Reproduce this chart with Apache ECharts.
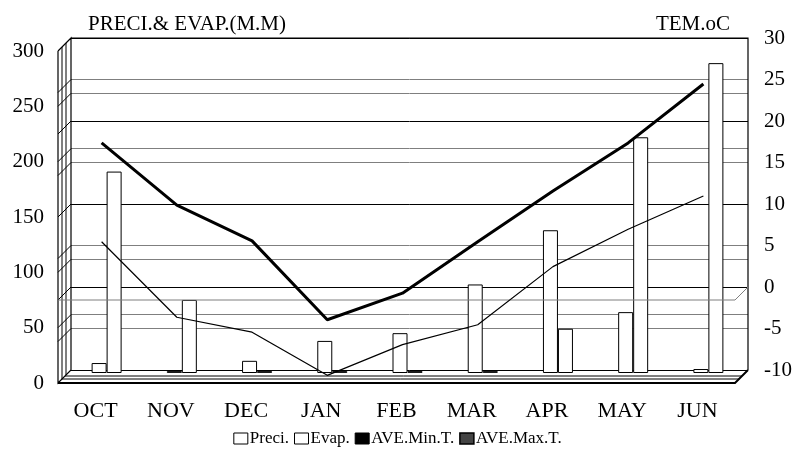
<!DOCTYPE html>
<html>
<head>
<meta charset="utf-8">
<script src="https://cdn.jsdelivr.net/npm/echarts@6/dist/echarts.min.js"></script>
<style>
  html, body { margin: 0; padding: 0; background: #fff; }
  #chart { width: 795px; height: 450px; }
</style>
</head>
<body>
<div id="chart"></div>
<script>
// Monthly climate data, October through June
var months = ['OCT', 'NOV', 'DEC', 'JAN', 'FEB', 'MAR', 'APR', 'MAY', 'JUN'];
var preci = [9, 0, 11, 29, 36, 80, 129, 55, 3.6];        // mm
var evap = [182, 66, 0, 0, 0, 0, 40, 213, 280];          // mm
var minTemp = [6.3, -2.8, -4.6, -9.8, -6.1, -3.7, 3.3, 7.8, 11.8];   // deg C
var maxTemp = [18.2, 10.7, 6.4, -3.1, 0.1, 6.3, 12.4, 18.2, 25.3];   // deg C

var leftTicks = { min: 0, max: 300, interval: 50 };
var rightTicks = { min: -10, max: 30, interval: 5 };

var FONT = '"Liberation Serif", "Times New Roman", serif';

// Pseudo-3D box geometry (back wall and depth offset, in px)
var BL = 71, BR = 748, BT = 38, BB = 370, D = 13;

function barData(arr) {
  return arr.map(function (v) {
    return v === 0 ? { value: v, itemStyle: { color: '#1a1a1a', borderColor: '#1a1a1a' } } : v;
  });
}

var chart = echarts.init(document.getElementById('chart'), null, { renderer: 'canvas' });

function frameGraphics() {
  var g = [];
  var line = function (pts, color, w, z) {
    g.push({ type: 'polyline', shape: { points: pts }, style: { stroke: color, lineWidth: w, fill: null }, z: z || 5, silent: true });
  };
  // back-wall grid positions from both value axes
  var ys = [];
  for (var v = leftTicks.min; v <= leftTicks.max; v += leftTicks.interval) {
    ys.push(chart.convertToPixel({ yAxisIndex: 0 }, v));
  }
  for (var t = rightTicks.min; t <= rightTicks.max; t += rightTicks.interval) {
    ys.push(chart.convertToPixel({ yAxisIndex: 1 }, t));
  }
  // left side wall
  ys.forEach(function (y) { line([[BL, y], [BL - D, y + D]], '#000', 1); });
  line([[BL - D, BT + D], [BL, BT], [BL, BB], [BL - D, BB + D], [BL - D, BT + D]], '#000', 1.2);
  line([[BL - 9, BT + 9], [BL - 9, BB + 9]], '#000', 1);
  line([[BL - 5, BT + 5], [BL - 5, BB + 5]], '#000', 1);
  // back wall top and right edge
  line([[BL, BT], [BR, BT], [BR, BB]], '#000', 1.2);
  // zero temperature plane
  var y0 = chart.convertToPixel({ yAxisIndex: 1 }, 0);
  line([[BL - D, y0 + D], [BR - D, y0 + D], [BR, y0]], '#7f7f7f', 1);
  // floor slab
  line([[BL - D, BB + D], [BR - D, BB + D], [BR, BB]], '#000', 2);
  line([[BL - 9, BB + 9], [BR - 9, BB + 9]], '#000', 1);
  line([[BL - 6, BB + 6], [BR - 6, BB + 6]], '#000', 1);
  return g;
}

var option = {
  animation: false,
  backgroundColor: '#fff',
  textStyle: { fontFamily: FONT, color: '#000' },
  title: [
    { text: 'PRECI.& EVAP.(M.M)', left: 83, top: 9, textStyle: { fontFamily: FONT, fontSize: 21, fontWeight: 'normal', color: '#000' } },
    { text: 'TEM.oC', right: 60, top: 9, textStyle: { fontFamily: FONT, fontSize: 21, fontWeight: 'normal', color: '#000' } }
  ],
  legend: {
    top: 430, left: 'center', padding: 0,
    itemWidth: 14, itemHeight: 11, itemGap: 5,
    textStyle: { fontFamily: FONT, fontSize: 17, color: '#000', padding: [0, 0, 0, -3] },
    data: [
      { name: 'Preci.', icon: 'rect', itemStyle: { color: '#fff', borderColor: '#000', borderWidth: 1 } },
      { name: 'Evap.', icon: 'rect', itemStyle: { color: '#fff', borderColor: '#000', borderWidth: 1 } },
      { name: 'AVE.Min.T.', icon: 'rect', itemStyle: { color: '#000', borderColor: '#000', borderWidth: 1 } },
      { name: 'AVE.Max.T.', icon: 'rect', itemStyle: { color: '#444', borderColor: '#000', borderWidth: 1.5 } }
    ]
  },
  grid: [
    { left: BL, right: 795 - BR, top: BT, bottom: 450 - BB },                 // back wall
    { left: BL - 2, right: 795 - BR + 2, top: BT + 3, bottom: 450 - BB - 3 },  // bar plane
    { left: BL - 7, right: 795 - BR + 7, top: BT + 7, bottom: 450 - BB - 7 },  // line plane
    { left: BL - D, right: 795 - BR + D, top: BT + D, bottom: 450 - BB - D }   // front plane (labels)
  ],
  xAxis: [
    { type: 'category', gridIndex: 0, data: months, show: false },
    { type: 'category', gridIndex: 1, data: months, show: false },
    { type: 'category', gridIndex: 2, data: months, show: false, boundaryGap: true },
    { type: 'category', gridIndex: 3, data: months, axisLine: { show: false }, axisTick: { show: false },
      axisLabel: { fontFamily: FONT, fontSize: 22, color: '#000', margin: 17 } }
  ],
  yAxis: [
    { type: 'value', gridIndex: 0, min: leftTicks.min, max: leftTicks.max, interval: leftTicks.interval,
      axisLine: { show: false }, axisTick: { show: false }, axisLabel: { show: false },
      splitLine: { show: true, lineStyle: { color: '#7f7f7f', width: 1 } } },
    { type: 'value', gridIndex: 0, position: 'right', min: rightTicks.min, max: rightTicks.max, interval: rightTicks.interval,
      axisLine: { show: false }, axisTick: { show: false },
      axisLabel: { fontFamily: FONT, fontSize: 21, color: '#000', margin: 16 },
      splitLine: { show: true, lineStyle: { color: ['#000', '#7f7f7f'], width: 1 } } },
    { type: 'value', gridIndex: 1, min: leftTicks.min, max: leftTicks.max, show: false, splitLine: { show: false } },
    { type: 'value', gridIndex: 2, min: rightTicks.min, max: rightTicks.max, show: false, splitLine: { show: false } },
    { type: 'value', gridIndex: 3, min: leftTicks.min, max: leftTicks.max, interval: leftTicks.interval,
      axisLine: { show: false }, axisTick: { show: false }, splitLine: { show: false },
      axisLabel: { fontFamily: FONT, fontSize: 21, color: '#000', margin: 14 } }
  ],
  series: [
    { name: 'Preci.', type: 'bar', xAxisIndex: 1, yAxisIndex: 2, data: barData(preci),
      barWidth: 15, barGap: '0%', barMinHeight: 2, z: 3,
      itemStyle: { color: '#fff', borderColor: '#000', borderWidth: 1 } },
    { name: 'Evap.', type: 'bar', xAxisIndex: 1, yAxisIndex: 2, data: barData(evap),
      barWidth: 15, barGap: '0%', barMinHeight: 2, z: 3,
      itemStyle: { color: '#fff', borderColor: '#000', borderWidth: 1 } },
    { name: 'AVE.Min.T.', type: 'line', xAxisIndex: 2, yAxisIndex: 3, data: minTemp,
      showSymbol: false, symbol: 'none', z: 6, color: '#000',
      lineStyle: { color: '#000', width: 1.2 } },
    { name: 'AVE.Max.T.', type: 'line', xAxisIndex: 2, yAxisIndex: 3, data: maxTemp,
      showSymbol: false, symbol: 'none', z: 6, color: '#444',
      lineStyle: { color: '#000', width: 3 } }
  ]
};

chart.setOption(option);
chart.setOption({ graphic: frameGraphics() });
</script>
</body>
</html>
